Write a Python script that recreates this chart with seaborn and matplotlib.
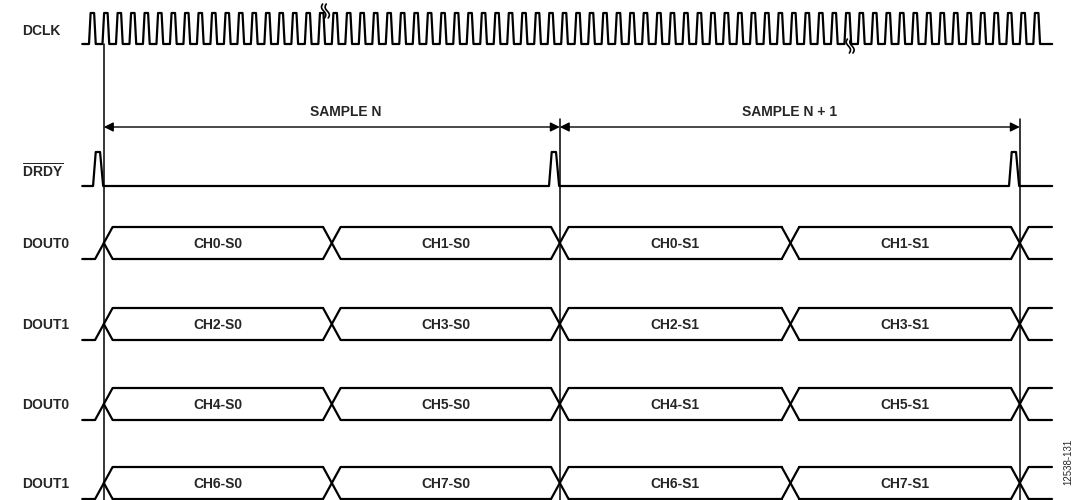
import numpy as np
import pandas as pd
import matplotlib
matplotlib.use("Agg")
import matplotlib.pyplot as plt
import seaborn as sns

# timing data, in DCLK cycles (t = 0 is the first rising edge)
n_clk = 71
frame_edges = [1.1, 34.9, 69.0]          # DRDY falling edges / sample boundaries
word_edges = [1.1, 18.0, 34.9, 52.0, 69.0]
sample_labels = ["SAMPLE N", "SAMPLE N + 1"]
sample_label_t = [19.0, 51.9]
row_names = ["DOUT0", "DOUT1", "DOUT0", "DOUT1"]
word_labels = [
    ["CH0-S0", "CH1-S0", "CH0-S1", "CH1-S1"],
    ["CH2-S0", "CH3-S0", "CH2-S1", "CH3-S1"],
    ["CH4-S0", "CH5-S0", "CH4-S1", "CH5-S1"],
    ["CH6-S0", "CH7-S0", "CH6-S1", "CH7-S1"],
]
clk_breaks = [17.6, 56.5]

# layout (vertical positions in pixel-like units, 0 at top)
t_start, t_end = -0.5, 71.4
px = 13.49
clk_hi, clk_lo = 13, 44
drdy_hi, drdy_lo = 152, 186
bus_mid = [243, 324, 404, 483]
bus_half = 16
xh = 0.65
fs = 10

traces = []

def add(name, ts, ys):
    for t, y in zip(ts, ys):
        traces.append({"trace": name, "t": t, "y": y})

# DCLK
ts, ys = [t_start, 0], [clk_lo, clk_lo]
s = 0.12
for k in range(n_clk):
    ts += [k, k + s, k + 0.5 - s, k + 0.5, k + 1]
    ys += [clk_lo, clk_hi, clk_hi, clk_lo, clk_lo]
ts[-1] = t_end
add("dclk", ts, ys)

# DRDY
ts, ys = [t_start], [drdy_lo]
for e in frame_edges:
    ts += [e - 0.8, e - 0.6, e - 0.28, e - 0.05]
    ys += [drdy_lo, drdy_hi, drdy_hi, drdy_lo]
ts.append(t_end)
ys.append(drdy_lo)
add("drdy", ts, ys)

# data buses
for r, m in enumerate(bus_mid):
    top, bot = m - bus_half, m + bus_half
    e0 = word_edges[0]
    add(f"b{r}_idle", [t_start, e0 - xh, e0 + xh], [bot, bot, top])
    add(f"b{r}_x0", [e0, e0 + xh], [m, bot])
    for i, e in enumerate(word_edges):
        nxt = word_edges[i + 1] - xh if i + 1 < len(word_edges) else t_end
        if i > 0:
            add(f"b{r}_u{i}", [e - xh, e + xh], [top, bot])
            add(f"b{r}_d{i}", [e - xh, e + xh], [bot, top])
        add(f"b{r}_t{i}", [e + xh, nxt], [top, top])
        add(f"b{r}_b{i}", [e + xh, nxt], [bot, bot])

df = pd.DataFrame(traces)

sns.set_style("white")
plt.rcParams["font.family"] = ["Liberation Sans", "DejaVu Sans"]
plt.rcParams["mathtext.fontset"] = "custom"
plt.rcParams["mathtext.bf"] = "Liberation Sans:bold"
plt.rcParams["mathtext.rm"] = "Liberation Sans"

fig = plt.figure(figsize=(10.8, 5), dpi=100)
ax = fig.add_axes([0, 0, 1, 1])
sns.lineplot(data=df, x="t", y="y", units="trace", estimator=None, sort=False,
             color="black", lw=1.6, ax=ax, legend=False)

ax.set_xlim(-89 / px, (1080 - 89) / px)
ax.set_ylim(500, 0)
ax.axis("off")

# sample boundary lines
ax.plot([frame_edges[0]] * 2, [clk_lo, 500], color="black", lw=1.1)
for e in frame_edges[1:]:
    ax.plot([e, e], [119, 500], color="black", lw=1.1)

# sample arrows
for i, lab in enumerate(sample_labels):
    a, b = frame_edges[i], frame_edges[i + 1]
    ax.annotate("", xy=(a, 127), xytext=(b, 127),
                arrowprops=dict(arrowstyle="<|-|>", color="black", lw=1,
                                mutation_scale=14, shrinkA=0, shrinkB=0))
    ax.text(sample_label_t[i], 112, lab, ha="center", va="center",
            fontsize=fs, fontweight="bold")

# clock break marks (two small wavy strokes)
u = np.linspace(0, 1, 30)
for cb, yc in zip(clk_breaks, [11, 46]):
    for off in (-1.8, 1.8):
        xs = cb + (off + 1.6 * np.sin(2 * np.pi * u)) / px - u * 2 / px
        ys_ = yc - 7 + 14 * u
        ax.plot(xs, ys_[::-1], color="black", lw=1.2, solid_capstyle="round")

# row labels
lx = (22 - 89) / px
ax.text(lx, 31, "DCLK", ha="left", va="center", fontsize=fs, fontweight="bold")
ax.text(lx, 171, r"$\overline{\mathbf{DRDY}}$", ha="left", va="center", fontsize=fs)
for r, m in enumerate(bus_mid):
    ax.text(lx, m + 1, row_names[r], ha="left", va="center", fontsize=fs,
            fontweight="bold")
    for i, lab in enumerate(word_labels[r]):
        c = (word_edges[i] + word_edges[i + 1]) / 2
        ax.text(c, m + 1, lab, ha="center", va="center", fontsize=fs,
                fontweight="bold")

ax.text((1068 - 89) / px, 462, "12538-131", rotation=90, ha="center",
        va="center", fontsize=7)

fig.savefig("out.png", dpi=100, facecolor="white")
